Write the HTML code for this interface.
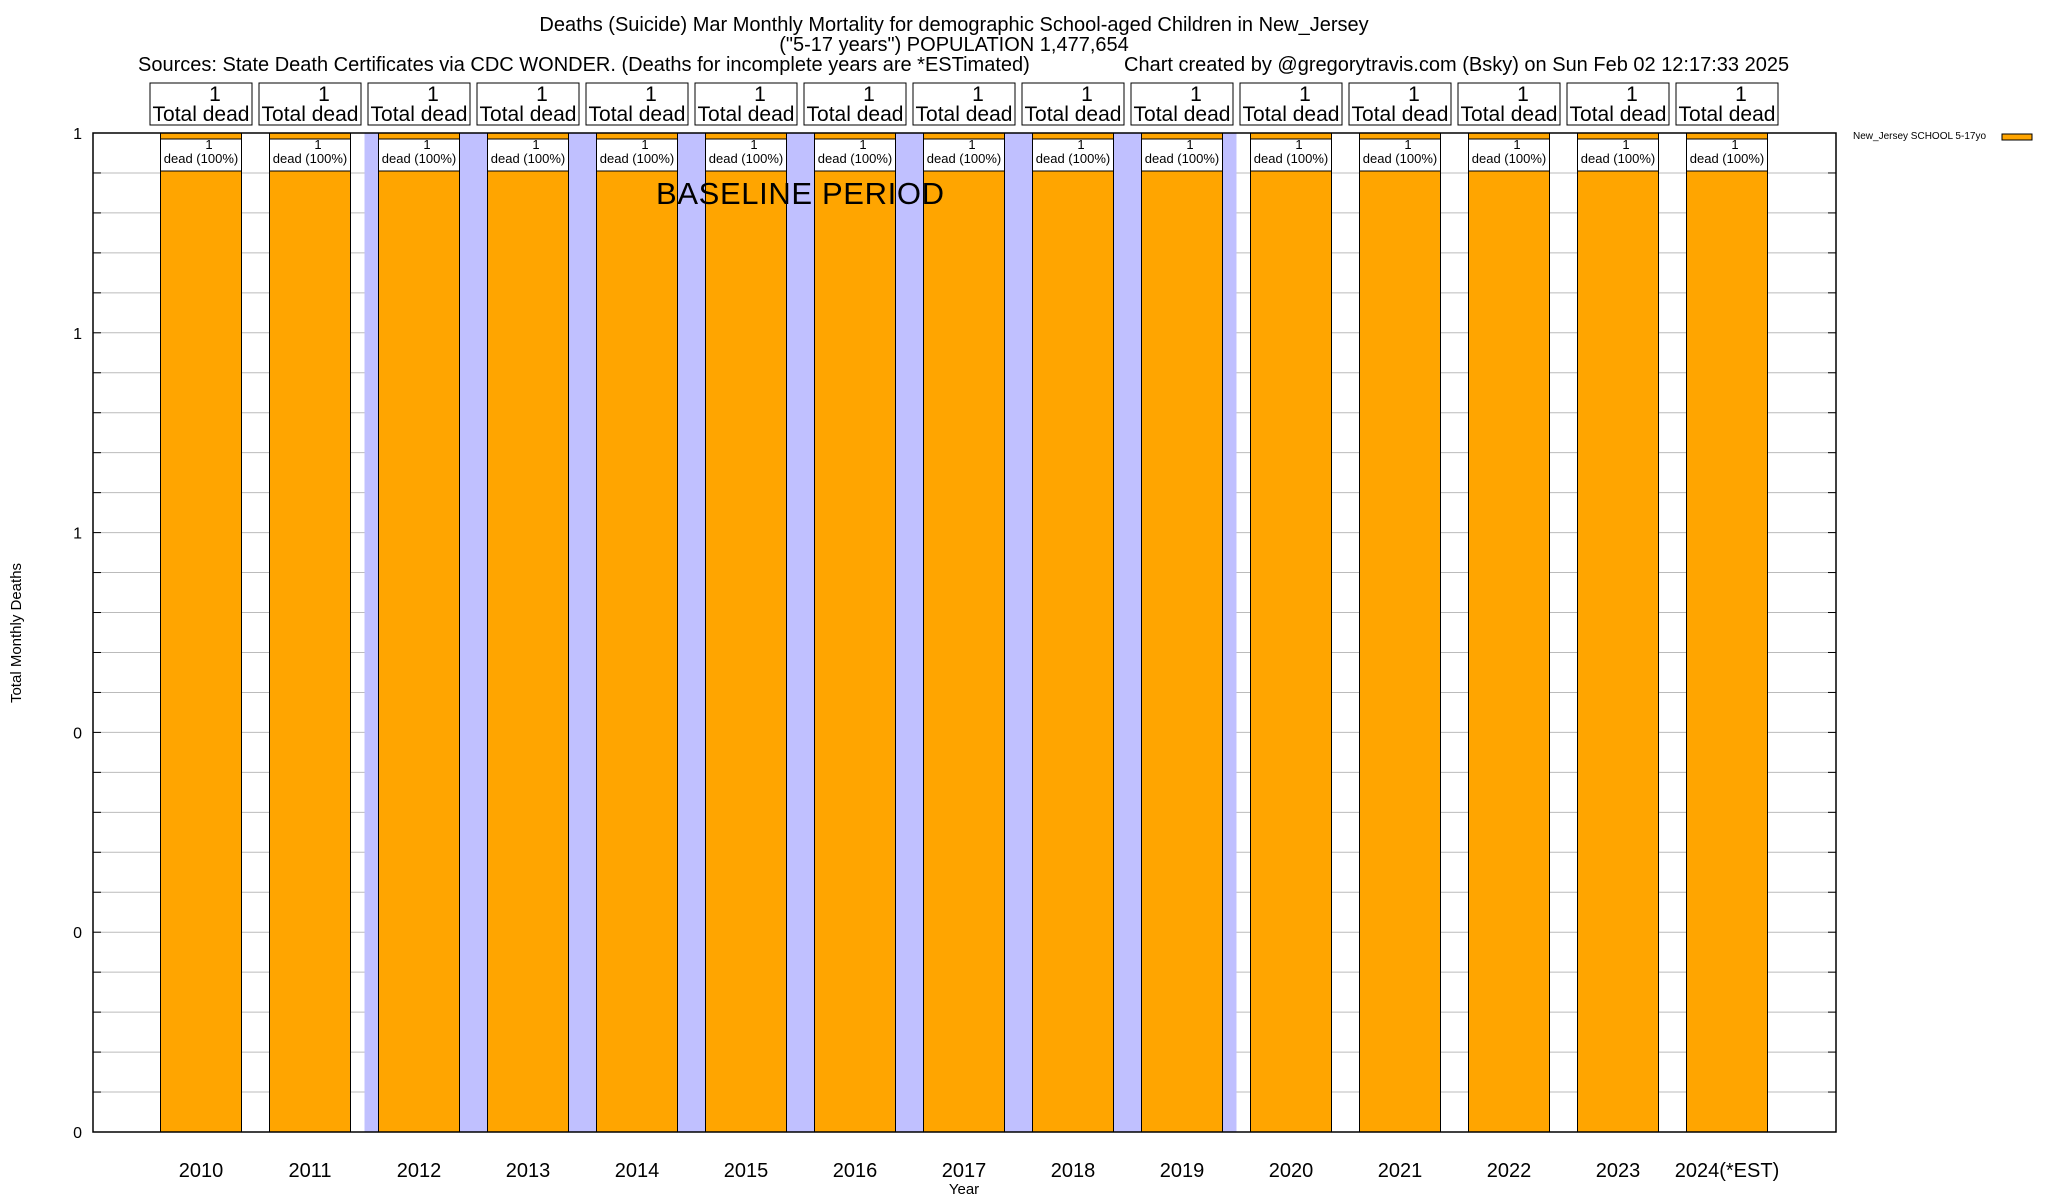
<!DOCTYPE html>
<html><head><meta charset="utf-8"><style>
html,body{margin:0;padding:0;background:#fff;}
svg{display:block;font-family:"Liberation Sans",sans-serif;}
</style></head><body>
<svg id="chart" width="2048" height="1200" viewBox="0 0 2048 1200">
<text x="954" y="31" text-anchor="middle" font-size="20">Deaths (Suicide) Mar Monthly Mortality for demographic School-aged Children in New_Jersey</text>
<text x="954" y="51" text-anchor="middle" font-size="20">("5-17 years") POPULATION 1,477,654</text>
<text x="138" y="71" font-size="20">Sources: State Death Certificates via CDC WONDER. (Deaths for incomplete years are *ESTimated)</text>
<text x="1124" y="71" font-size="20">Chart created by @gregorytravis.com (Bsky) on Sun Feb 02 12:17:33 2025</text>
<g id="plot"></g>
<text transform="translate(21,633) rotate(-90)" text-anchor="middle" font-size="15">Total Monthly Deaths</text>
<text x="964" y="1194" text-anchor="middle" font-size="15">Year</text>
<text x="1853" y="139" font-size="10">New_Jersey SCHOOL 5-17yo</text>
<rect x="2002" y="134" width="30" height="6" fill="#ffa500" stroke="#000" stroke-width="1"/>
</svg>
<script>
const categories = ["2010","2011","2012","2013","2014","2015","2016","2017","2018","2019","2020","2021","2022","2023","2024(*EST)"];
const values = [1,1,1,1,1,1,1,1,1,1,1,1,1,1,1];
const yTickLabels = ["0","0","0","1","1","1"];
const yTickValues = [0,0.2,0.4,0.6,0.8,1.0];
const baselineStart = "2012";
const baselineEnd = "2019";

const NS="http://www.w3.org/2000/svg";
const L=93,R=1836,T=133,B=1132;
const yMax=1;
const x0=201,step=109,bw=81;
function xC(i){return x0+i*step;}
function yS(v){return B-(v/yMax)*(B-T);}
const g=document.getElementById('plot');
function mk(tag,attrs,parent){const e=document.createElementNS(NS,tag);for(const k in attrs)e.setAttribute(k,attrs[k]);(parent||g).appendChild(e);return e;}

for(let i=0;i<=25;i++){
  const y=B-i*(B-T)/25;
  const gl=mk('line',{x1:L,x2:R,y1:y,y2:y,stroke:'#bbb','stroke-width':1});
  
  
  const tl=mk('line',{x1:L,x2:L+8,y1:y,y2:y,stroke:'#000','stroke-width':1});
  
  
  const tr=mk('line',{x1:R-8,x2:R,y1:y,y2:y,stroke:'#000','stroke-width':1});
  
  
}
const bs=categories.indexOf(baselineStart),be=categories.indexOf(baselineEnd);
const band=mk('rect',{x:xC(bs)-bw/2-14,y:T,width:(xC(be)-xC(bs))+bw+28,height:B-T,fill:'#c0c0ff'});



categories.forEach((c,i)=>{
  const cx=xC(i),v=values[i],yt=yS(v);
  const bar=mk('rect',{x:cx-bw/2,y:yt,width:bw,height:B-yt,fill:'#ffa500',stroke:'#000','stroke-width':1});
  
  
  const ib=mk('rect',{x:cx-bw/2,y:yt+6,width:bw,height:32,fill:'#fff',stroke:'#000','stroke-width':1});
  
  
  const t1=mk('text',{x:cx+8,y:yt+16,'text-anchor':'middle','font-size':13});
  t1.textContent=String(v);
  
  
  const t2=mk('text',{x:cx,y:yt+30,'text-anchor':'middle','font-size':13});
  t2.textContent='dead (100%)';
  
  
  const tb=mk('rect',{x:cx-51,y:83,width:102,height:42,fill:'#fff',stroke:'#000','stroke-width':1});
  
  
  const tt1=mk('text',{x:cx+14,y:101,'text-anchor':'middle','font-size':21});
  tt1.textContent=String(v);
  
  
  const tt2=mk('text',{x:cx,y:121,'text-anchor':'middle','font-size':21});
  tt2.textContent='Total dead';
  
  
  const xl=mk('text',{x:cx,y:1177,'text-anchor':'middle','font-size':20});
  xl.textContent=c;
  
  
});
const bt=mk('text',{x:656,y:204,'font-size':31,textLength:288});
bt.textContent='BASELINE PERIOD';


yTickValues.forEach((v,i)=>{
  const t=mk('text',{x:82,y:yS(v)+6,'text-anchor':'end','font-size':16});
  t.textContent=yTickLabels[i];
  
  
});
const fr=mk('rect',{x:L,y:T,width:R-L,height:B-T,fill:'none',stroke:'#000','stroke-width':1.5});


</script>
</body></html>
